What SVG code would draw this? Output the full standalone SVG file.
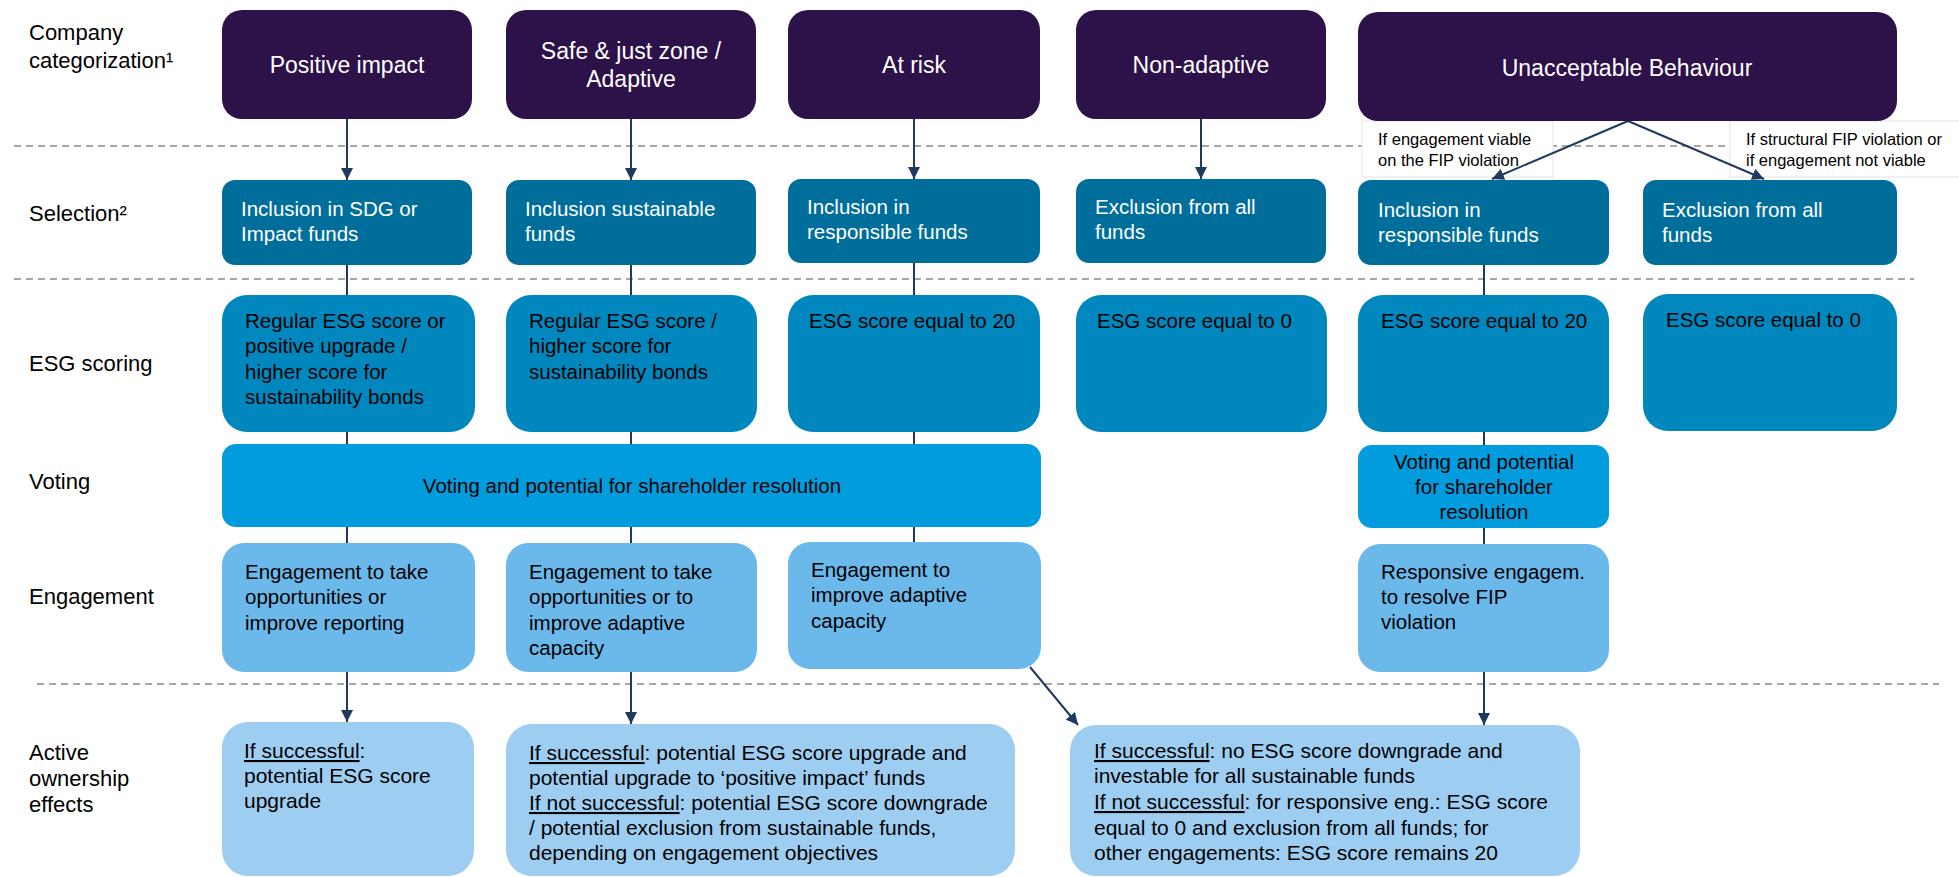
<svg xmlns="http://www.w3.org/2000/svg" width="1959" height="877" viewBox="0 0 1959 877">
<defs>
<marker id="ah" viewBox="0 0 12 12" refX="12" refY="6" markerWidth="12" markerHeight="12" markerUnits="userSpaceOnUse" orient="auto"><path d="M0,0 L12,6 L0,12 z" fill="#1F3A5F"/></marker>
</defs>
<style>
text { font-family: "Liberation Sans", Arial, sans-serif; }
.lbl { font-size: 22px; fill: #000; }
.ttl { font-size: 23px; fill: #fff; text-anchor: middle; }
.b { font-size: 20.5px; fill: #000; }
.w { fill: #fff; }
.c { text-anchor: middle; }
.e { font-size: 21px; fill: #000; }
.cond { font-size: 16.5px; fill: #000; }
.cat { fill: #2D124A; }
.sel { fill: #006E9B; }
.esg { fill: #0087BE; }
.vot { fill: #009CDE; }
.eng { fill: #6BB8EA; }
.eff { fill: #9DCEF2; }
.dash { stroke: #A6A6A6; stroke-width: 2; stroke-dasharray: 7 5; fill: none; }
.con { stroke: #1F3A5F; stroke-width: 2; fill: none; }
.arr { marker-end: url(#ah); }
.u { text-decoration: underline; }
.lb { fill: #fff; stroke: #e3e3e3; stroke-width: 1; }
</style>

<g id="row-labels">
<text class="lbl" x="29" y="40">Company</text>
<text class="lbl" x="29" y="68">categorization¹</text>
<text class="lbl" x="29" y="221">Selection²</text>
<text class="lbl" x="29" y="371">ESG scoring</text>
<text class="lbl" x="29" y="489">Voting</text>
<text class="lbl" x="29" y="604">Engagement</text>
<text class="lbl" x="29" y="760">Active</text>
<text class="lbl" x="29" y="786">ownership</text>
<text class="lbl" x="29" y="812">effects</text>
</g>

<g id="separators">
<line class="dash" x1="14" y1="146" x2="1914" y2="146"/>
<line class="dash" x1="14" y1="279" x2="1914" y2="279"/>
<line class="dash" x1="37" y1="684" x2="1939" y2="684"/>
</g>

<g id="edge-labels">
<rect class="lb" x="1362" y="121" width="191" height="56"/>
<text class="cond" x="1378" y="145">If engagement viable</text>
<text class="cond" x="1378" y="166">on the FIP violation</text>
<rect class="lb" x="1730" y="121" width="240" height="56"/>
<text class="cond" x="1746" y="145">If structural FIP violation or</text>
<text class="cond" x="1746" y="166">if engagement not viable</text>
</g>

<g id="connectors">
<path class="con arr" d="M347,119 V180"/>
<path class="con arr" d="M631,119 V180"/>
<path class="con arr" d="M914,119 V179"/>
<path class="con arr" d="M1201,119 V179"/>
<path class="con arr" d="M1628,121 L1492,179"/>
<path class="con arr" d="M1628,121 L1764,179"/>
<path class="con" d="M347,265 V543"/>
<path class="con" d="M631,265 V543"/>
<path class="con" d="M914,263 V542"/>
<path class="con" d="M1484,265 V544"/>
<path class="con arr" d="M347,672 V722"/>
<path class="con arr" d="M631,672 V724"/>
<path class="con arr" d="M1030,667 L1078,725"/>
<path class="con arr" d="M1484,672 V725"/>
</g>

<g id="cat-positive">
<rect class="cat" x="222" y="10" width="250" height="109" rx="20"/>
<text class="ttl" x="347" y="73">Positive impact</text>
</g>
<g id="cat-safe">
<rect class="cat" x="506" y="10" width="250" height="109" rx="20"/>
<text class="ttl" x="631" y="59">Safe &amp; just zone /</text>
<text class="ttl" x="631" y="87">Adaptive</text>
</g>
<g id="cat-atrisk">
<rect class="cat" x="788" y="10" width="252" height="109" rx="20"/>
<text class="ttl" x="914" y="73">At risk</text>
</g>
<g id="cat-nonadaptive">
<rect class="cat" x="1076" y="10" width="250" height="109" rx="20"/>
<text class="ttl" x="1201" y="73">Non-adaptive</text>
</g>
<g id="cat-unacceptable">
<rect class="cat" x="1358" y="12" width="539" height="109" rx="20"/>
<text class="ttl" x="1627" y="76">Unacceptable Behaviour</text>
</g>

<g id="sel-1">
<rect class="sel" x="222" y="180" width="250" height="85" rx="13"/>
<text class="b w" x="241" y="216">Inclusion in SDG or</text>
<text class="b w" x="241" y="241">Impact funds</text>
</g>
<g id="sel-2">
<rect class="sel" x="506" y="180" width="250" height="85" rx="13"/>
<text class="b w" x="525" y="216">Inclusion sustainable</text>
<text class="b w" x="525" y="241">funds</text>
</g>
<g id="sel-3">
<rect class="sel" x="788" y="179" width="252" height="84" rx="13"/>
<text class="b w" x="807" y="214">Inclusion in</text>
<text class="b w" x="807" y="239">responsible funds</text>
</g>
<g id="sel-4">
<rect class="sel" x="1076" y="179" width="250" height="84" rx="13"/>
<text class="b w" x="1095" y="214">Exclusion from all</text>
<text class="b w" x="1095" y="239">funds</text>
</g>
<g id="sel-5">
<rect class="sel" x="1358" y="180" width="251" height="85" rx="13"/>
<text class="b w" x="1378" y="217">Inclusion in</text>
<text class="b w" x="1378" y="242">responsible funds</text>
</g>
<g id="sel-6">
<rect class="sel" x="1643" y="180" width="254" height="85" rx="13"/>
<text class="b w" x="1662" y="217">Exclusion from all</text>
<text class="b w" x="1662" y="242">funds</text>
</g>

<g id="esg-1">
<rect class="esg" x="222" y="295" width="253" height="137" rx="25"/>
<text class="b" x="245" y="328">Regular ESG score or</text>
<text class="b" x="245" y="353">positive upgrade /</text>
<text class="b" x="245" y="379">higher score for</text>
<text class="b" x="245" y="404">sustainability bonds</text>
</g>
<g id="esg-2">
<rect class="esg" x="506" y="295" width="251" height="137" rx="25"/>
<text class="b" x="529" y="328">Regular ESG score /</text>
<text class="b" x="529" y="353">higher score for</text>
<text class="b" x="529" y="379">sustainability bonds</text>
</g>
<g id="esg-3">
<rect class="esg" x="788" y="295" width="252" height="137" rx="25"/>
<text class="b" x="809" y="328">ESG score equal to 20</text>
</g>
<g id="esg-4">
<rect class="esg" x="1076" y="295" width="251" height="137" rx="25"/>
<text class="b" x="1097" y="328">ESG score equal to 0</text>
</g>
<g id="esg-5">
<rect class="esg" x="1358" y="295" width="251" height="137" rx="25"/>
<text class="b" x="1381" y="328">ESG score equal to 20</text>
</g>
<g id="esg-6">
<rect class="esg" x="1643" y="294" width="254" height="137" rx="25"/>
<text class="b" x="1666" y="327">ESG score equal to 0</text>
</g>

<g id="vote-main">
<rect class="vot" x="222" y="444" width="819" height="83" rx="14"/>
<text class="b c" x="632" y="493">Voting and potential for shareholder resolution</text>
</g>
<g id="vote-unacceptable">
<rect class="vot" x="1358" y="445" width="251" height="83" rx="14"/>
<text class="b c" x="1484" y="469">Voting and potential</text>
<text class="b c" x="1484" y="494">for shareholder</text>
<text class="b c" x="1484" y="519">resolution</text>
</g>

<g id="eng-1">
<rect class="eng" x="222" y="543" width="253" height="129" rx="22"/>
<text class="b" x="245" y="579">Engagement to take</text>
<text class="b" x="245" y="604">opportunities or</text>
<text class="b" x="245" y="630">improve reporting</text>
</g>
<g id="eng-2">
<rect class="eng" x="506" y="543" width="251" height="129" rx="22"/>
<text class="b" x="529" y="579">Engagement to take</text>
<text class="b" x="529" y="604">opportunities or to</text>
<text class="b" x="529" y="630">improve adaptive</text>
<text class="b" x="529" y="655">capacity</text>
</g>
<g id="eng-3">
<rect class="eng" x="788" y="542" width="253" height="127" rx="22"/>
<text class="b" x="811" y="577">Engagement to</text>
<text class="b" x="811" y="602">improve adaptive</text>
<text class="b" x="811" y="628">capacity</text>
</g>
<g id="eng-5">
<rect class="eng" x="1358" y="544" width="251" height="128" rx="22"/>
<text class="b" x="1381" y="579">Responsive engagem.</text>
<text class="b" x="1381" y="604">to resolve FIP</text>
<text class="b" x="1381" y="629">violation</text>
</g>

<g id="effect-1">
<rect class="eff" x="222" y="722" width="252" height="154" rx="26"/>
<text class="e" x="244" y="758"><tspan class="u">If successful</tspan>:</text>
<text class="e" x="244" y="783">potential ESG score</text>
<text class="e" x="244" y="808">upgrade</text>
</g>
<g id="effect-2">
<rect class="eff" x="506" y="724" width="509" height="152" rx="26"/>
<text class="e" x="529" y="760"><tspan class="u">If successful</tspan>: potential ESG score upgrade and</text>
<text class="e" x="529" y="785">potential upgrade to ‘positive impact’ funds</text>
<text class="e" x="529" y="810"><tspan class="u">If not successful</tspan>: potential ESG score downgrade</text>
<text class="e" x="529" y="835">/ potential exclusion from sustainable funds,</text>
<text class="e" x="529" y="860">depending on engagement objectives</text>
</g>
<g id="effect-3">
<rect class="eff" x="1070" y="725" width="510" height="151" rx="26"/>
<text class="e" x="1094" y="758"><tspan class="u">If successful</tspan>: no ESG score downgrade and</text>
<text class="e" x="1094" y="783">investable for all sustainable funds</text>
<text class="e" x="1094" y="809"><tspan class="u">If not successful</tspan>: for responsive eng.: ESG score</text>
<text class="e" x="1094" y="835">equal to 0 and exclusion from all funds; for</text>
<text class="e" x="1094" y="860">other engagements: ESG score remains 20</text>
</g>
</svg>
